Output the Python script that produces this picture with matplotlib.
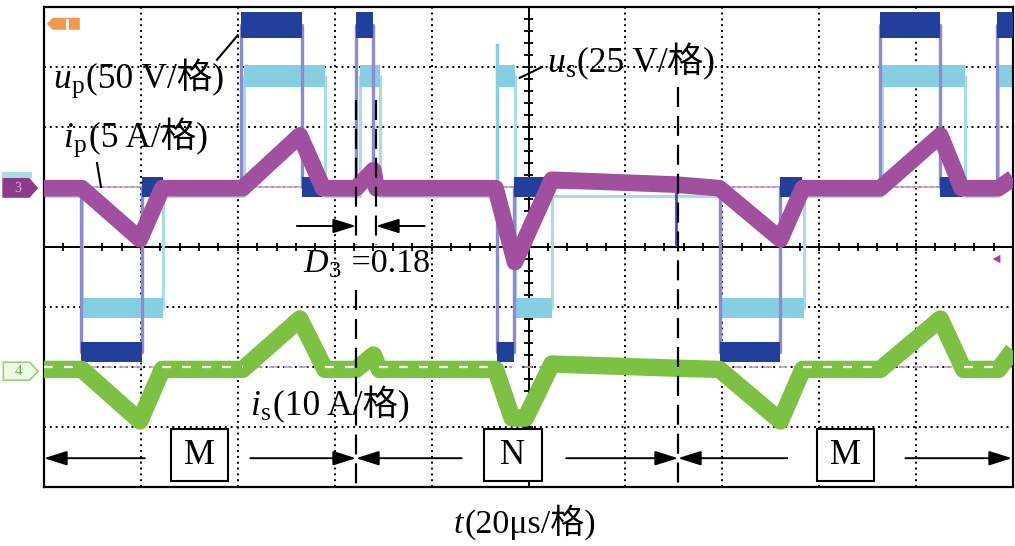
import matplotlib.pyplot as plt
from matplotlib.patches import Rectangle, Polygon
import numpy as np

plt.rcParams['font.family'] = ['Liberation Serif', 'Noto Sans CJK SC']

# screen units: x in divisions (20 us/div, 10 div), y in divisions (8 div)
# u_p (dark blue): switching edges and state after each edge
up_edges = [0.0, 0.38, 1.01, 2.03, 2.66, 3.22, 3.40, 4.68, 4.85, 6.98, 7.60, 8.63, 9.25, 9.84]
up_state = [0, -1, 0, 1, 0, 1, 0, -1, 0, -1, 0, 1, 0, 1]
up_level = {1: 3.70, 0: 1.00, -1: -1.75}
up_blocks = [(1.01, 1.23), (2.66, 2.87), (4.85, 5.20), (7.60, 7.82), (9.25, 9.47)]
up_glitch = (6.52, 0.03)

# u_s (light blue)
us_edges = [0.0, 0.39, 1.23, 2.06, 2.90, 3.26, 3.47, 4.67, 4.86, 5.24, 6.98, 7.84, 8.65, 9.50, 9.85]
us_state = [0, -1, 0, 1, 0, 1, 0, 1, -1, 0, -1, 0, 1, 0, 1]
us_level = {1: 2.85, 0: 0.85, -1: -1.02}
us_spike = (4.67, 3.37)

# i_p (purple)
ip_t = [0.0, 0.39, 0.99, 1.22, 2.05, 2.64, 2.88, 3.22, 3.40, 3.43, 4.66, 4.86, 5.24, 6.52,
        6.97, 7.60, 7.83, 8.63, 9.25, 9.47, 9.85, 10.0]
ip_y = [0.98, 0.98, 0.13, 0.98, 0.98, 1.86, 0.98, 0.98, 1.28, 0.98, 0.98, -0.25, 1.12, 1.04,
        0.98, 0.13, 0.98, 0.98, 1.86, 0.98, 0.98, 1.15]

# i_s (green)
is_t = [0.0, 0.39, 0.99, 1.22, 2.05, 2.64, 2.90, 3.22, 3.40, 3.46, 4.66, 4.83, 4.97, 5.24,
        6.52, 6.97, 7.60, 7.83, 8.63, 9.25, 9.49, 9.85, 10.0]
is_y = [-2.04, -2.04, -2.9, -2.04, -2.04, -1.2, -2.04, -2.04, -1.8, -2.04, -2.04, -2.85, -2.85,
        -1.95, -2.02, -2.04, -2.9, -2.04, -2.04, -1.2, -2.04, -2.04, -1.72]

# interval markers
d3_lines = [3.22, 3.426]
mode_split = [3.22, 6.543]
mode_names = ['M', 'N', 'M']
mode_box_x = [1.605, 4.84, 8.27]

DARK = '#223f9c'
DARK_EDGE = '#8d8bd0'
LIGHT = '#86cfe3'
LIGHT_EDGE = '#a9dcea'
PURPLE = '#a0509f'
GREEN = '#7dc142'

fig = plt.figure(figsize=(10.15, 5.46), dpi=100)
ax = fig.add_axes([44 / 1015, 59 / 546, 969 / 1015, 480 / 546])
ax.set_xlim(0, 10)
ax.set_ylim(-4, 4)
ax.set_xticks([])
ax.set_yticks([])
for s in ax.spines.values():
    s.set_linewidth(1.6)

# graticule
for gx in range(1, 10):
    if gx != 5:
        ax.axvline(gx, color='k', lw=1.4, ls=(0, (1, 2.0)), zorder=1)
for gy in range(-3, 4):
    if gy != 0:
        ax.axhline(gy, color='k', lw=1.4, ls=(0, (1, 2.0)), zorder=1)
ax.axhline(0, color='k', lw=1.4, zorder=1.5)
ax.axvline(5, color='k', lw=1.4, zorder=1.5)
ax.vlines(np.arange(0.2, 10, 0.2), -0.07, 0.07, color='k', lw=1.3, zorder=1.5)
ax.hlines(np.arange(-3.8, 4, 0.2), 4.95, 5.05, color='k', lw=1.3, zorder=1.5)

# channel reference lines
ax.axhline(1.0, color='#c9a3cd', lw=1.2, zorder=1.6)
ax.axhline(-2.0, color='#c9a0c8', lw=1.2, ls=(0, (5, 4)), zorder=1.6)


def steps(edges, states, levels):
    xs, ys = [], []
    ends = edges[1:] + [10.0]
    for a, b, s in zip(edges, ends, states):
        xs += [a, b]
        ys += [levels[s], levels[s]]
    return xs, ys


def bands(edges, states, levels, half, color, z):
    ends = edges[1:] + [10.0]
    for a, b, s in zip(edges, ends, states):
        if s != 0:
            y = levels[s]
            ax.fill_between([a, b], y - half[s], y + half[s], color=color, lw=0, zorder=z)


# u_s
xs, ys = steps(us_edges, us_state, us_level)
ax.plot(xs, ys, color=LIGHT_EDGE, lw=2.2, zorder=2)
ax.plot([us_spike[0], us_spike[0]], [us_level[0], us_spike[1]], color=LIGHT, lw=2.5, zorder=2)
bands(us_edges, us_state, us_level, {1: 0.18, -1: 0.17}, LIGHT, 2.1)

# u_p
xs, ys = steps(up_edges, up_state, up_level)
ax.plot(xs, ys, color=DARK_EDGE, lw=2.4, zorder=3)
ax.plot([up_glitch[0], up_glitch[0]], [up_level[0], up_glitch[1]], color='#4a4fa8', lw=2, zorder=3)
bands(up_edges, up_state, up_level, {1: 0.21, -1: 0.16}, DARK, 3.1)
for a, b in up_blocks:
    ax.fill_between([a, b], up_level[0] - 0.16, up_level[0] + 0.17, color=DARK, lw=0, zorder=3.1)

# i_p and i_s
ax.plot(ip_t, ip_y, color=PURPLE, lw=12, solid_joinstyle='round', solid_capstyle='butt', zorder=4)
ax.plot(is_t, is_y, color=GREEN, lw=12.5, solid_joinstyle='round', solid_capstyle='butt', zorder=5)
for a, b, ya, yb in zip(is_t[:-1], is_t[1:], is_y[:-1], is_y[1:]):
    if ya == yb:
        ax.plot([a, b], [-2.0, -2.0], color='white', lw=1.6, ls=(0, (4, 5)), zorder=5.5)

# dashed markers
ax.plot([d3_lines[0]] * 2, [2.45, 0.03], color='k', lw=1.6, ls=(0, (9, 4)), zorder=6)
ax.plot([d3_lines[0]] * 2, [-0.72, -4.0], color='k', lw=1.6, ls=(0, (9, 4)), zorder=6)
ax.plot([d3_lines[1]] * 2, [2.45, 0.03], color='k', lw=1.6, ls=(0, (9, 4)), zorder=6)
ax.plot([mode_split[1]] * 2, [2.67, -4.0], color='k', lw=1.6, ls=(0, (9, 4)), zorder=6)

arrow = dict(arrowstyle='-|>,head_length=0.7,head_width=0.22', mutation_scale=20,
             color='k', lw=1.4, shrinkA=0, shrinkB=0)


def arr(x0, x1, y):
    ax.annotate('', xy=(x1, y), xytext=(x0, y), arrowprops=arrow, zorder=7)


arr(2.61, d3_lines[0], 0.35)
arr(3.93, d3_lines[1], 0.35)

ya = -3.52
arr(1.04, 0.0, ya)
arr(2.13, mode_split[0], ya)
arr(4.31, mode_split[0], ya)
arr(5.39, mode_split[1], ya)
arr(7.67, mode_split[1], ya)
arr(8.89, 9.99, ya)

for name, cx in zip(mode_names, mode_box_x):
    ax.add_patch(Rectangle((cx - 0.295, -3.9), 0.59, 0.87, facecolor='white',
                           edgecolor='k', lw=1.5, zorder=8))
    ax.text(cx, -3.47, name, fontsize=25, ha='center', va='center', zorder=9)

# leader lines
ax.plot([1.785, 2.0], [3.12, 3.53], color='k', lw=1.5, zorder=9)
ax.plot([0.547, 0.588], [1.40, 1.0], color='k', lw=1.5, zorder=9)
ax.plot([5.14, 4.91], [3.0, 2.82], color='k', lw=1.5, zorder=9)

renderer = fig.canvas.get_renderer()
to_data = ax.transData.inverted()


def right_edge(t):
    bb = t.get_window_extent(renderer=renderer)
    return to_data.transform((bb.x1, bb.y0))[0]


def label(x, yb, main, sub, rest, size=25.5):
    t1 = ax.text(x, yb, main, fontstyle='italic', fontsize=size, ha='left', va='baseline',
                 zorder=10, clip_on=False)
    xs_ = right_edge(t1) + 0.01
    if sub:
        t2 = ax.text(xs_, yb - 0.09, sub, fontsize=size * 0.72, ha='left', va='baseline',
                     zorder=10)
        xs_ = right_edge(t2) + 0.02
    ax.text(xs_, yb, rest, fontsize=size, ha='left', va='baseline', zorder=10, clip_on=False)


label(0.093, 2.65, 'u', 'p', '(50 V/格)')
label(0.196, 1.667, 'i', 'p', '(5 A/格)')
label(5.19, 2.917, 'u', 's', '(25 V/格)')
label(2.673, -0.417, 'D', '3', ' =0.18', size=24.5)
label(2.126, -2.8, 'i', 's', '(10 A/格)')
label(4.231, -4.77, 't', '', '(20μs/格)', size=24.5)

# channel markers
ax.add_patch(Polygon([(0.03, 3.72), (0.09, 3.82), (0.37, 3.82), (0.37, 3.62), (0.09, 3.62)],
                     closed=True, color='#f29a4a', lw=0, zorder=9))
ax.plot([0.24, 0.24], [3.65, 3.79], color='white', lw=2, zorder=9.5)
ax.add_patch(Rectangle((-0.43, 1.15), 0.31, 0.1, color='#a8dde8', lw=0, clip_on=False))
ax.add_patch(Polygon([(-0.43, 1.15), (-0.15, 1.15), (-0.06, 0.98), (-0.15, 0.82), (-0.43, 0.82)],
                     closed=True, color='#8e3a8c', lw=0, clip_on=False))
ax.text(-0.27, 0.98, '3', fontsize=10, color='#d8b0d8', ha='center', va='center', clip_on=False)
ax.add_patch(Polygon([(-0.42, -1.92), (-0.15, -1.92), (-0.06, -2.07), (-0.15, -2.22), (-0.42, -2.22)],
                     closed=True, facecolor='#eef8e8', edgecolor='#9bd27c', lw=1.2, clip_on=False))
ax.text(-0.26, -2.07, '4', fontsize=11, color='#6db54a', ha='center', va='center', clip_on=False)
ax.add_patch(Polygon([(9.79, -0.2), (9.87, -0.13), (9.87, -0.27)], closed=True,
                     color='#a0409e', lw=0, zorder=9))

fig.savefig('out.png', dpi=100)
